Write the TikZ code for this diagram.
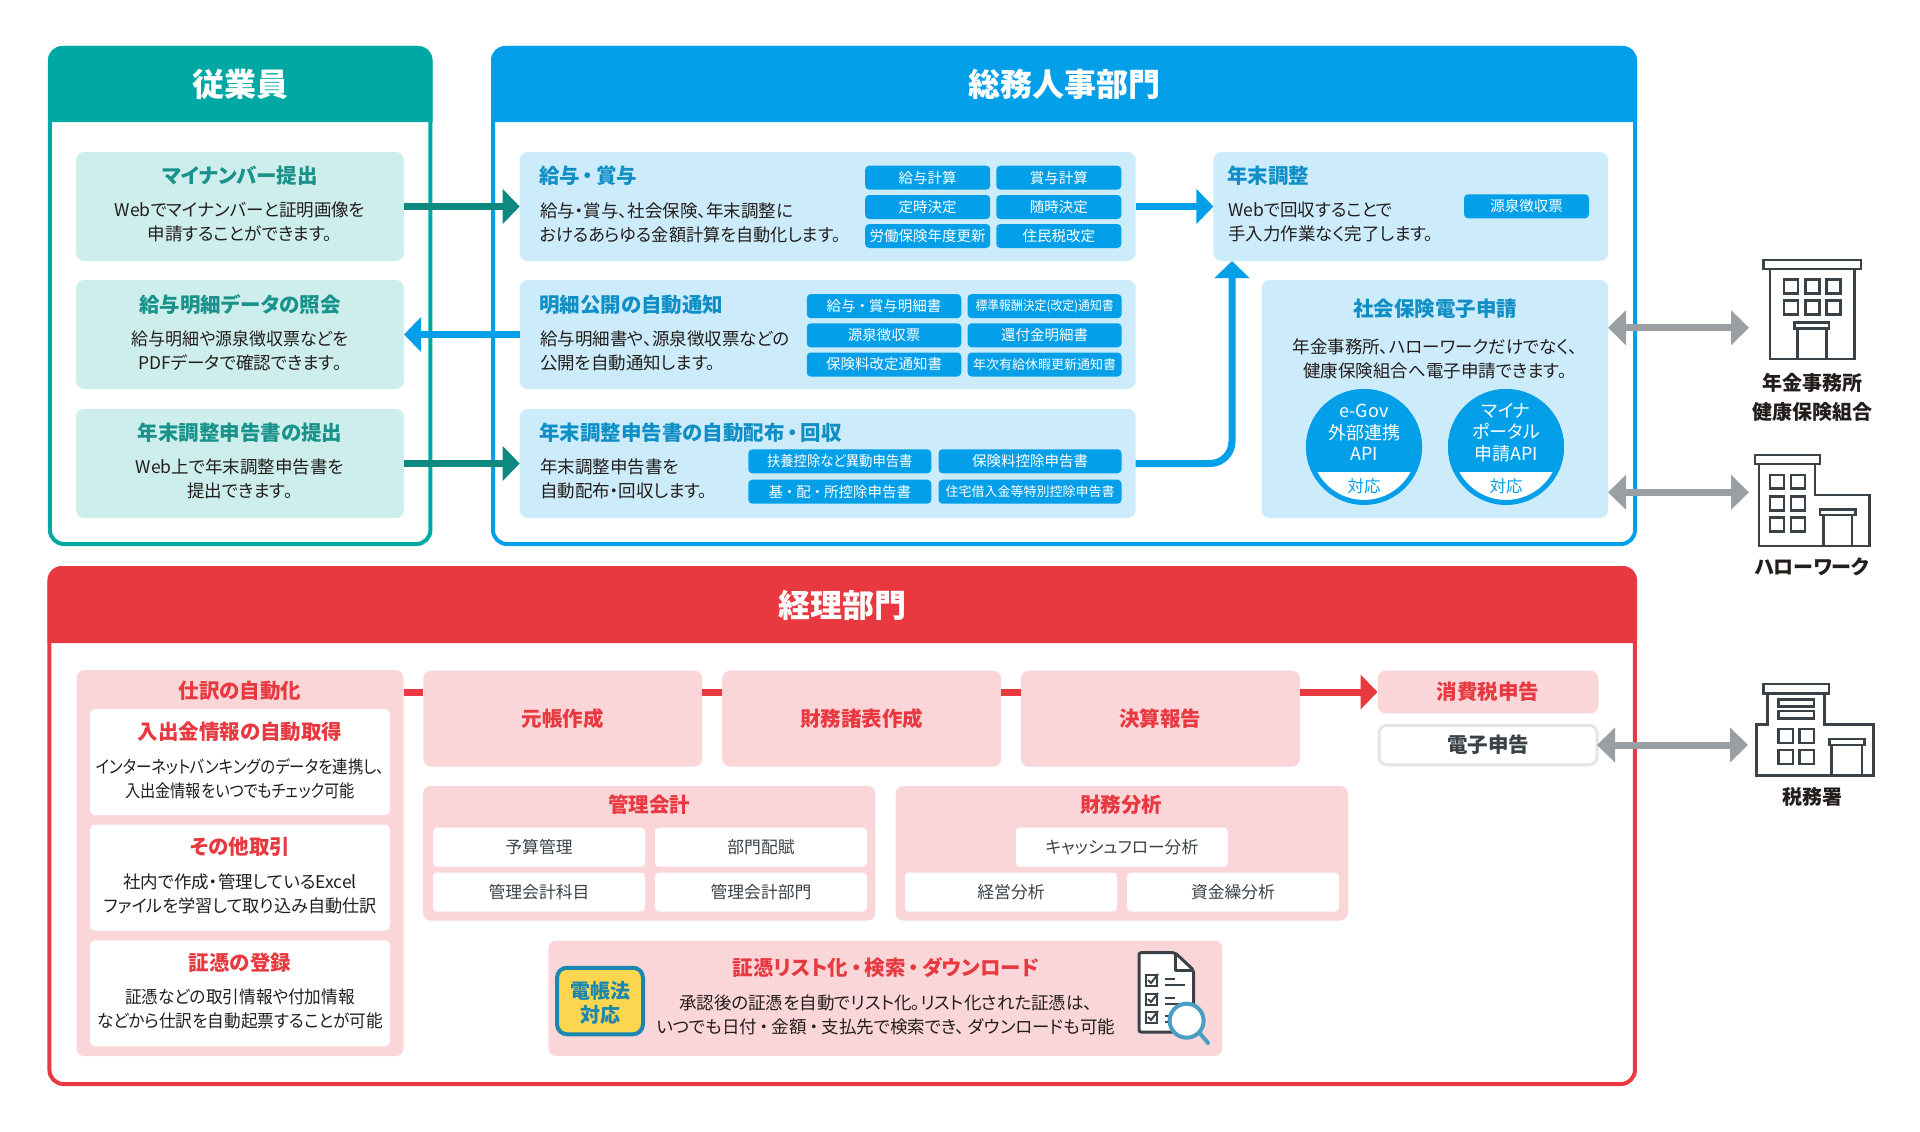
\documentclass[tikz,border=0pt]{standalone}
\usepackage{fontspec}
\setmainfont{Noto Sans CJK JP}[RawFeature={+palt}]
\usetikzlibrary{arrows.meta}
\definecolor{tealhead}{RGB}{0,168,163}
\definecolor{tealcard}{RGB}{205,238,236}
\definecolor{tealtitle}{RGB}{24,146,138}
\definecolor{tealarrow}{RGB}{14,137,128}
\definecolor{bluehead}{RGB}{3,160,233}
\definecolor{bluecard}{RGB}{204,235,251}
\definecolor{bluetitle}{RGB}{16,143,198}
\definecolor{redhead}{RGB}{232,56,64}
\definecolor{redcard}{RGB}{251,214,217}
\definecolor{grayarrow}{RGB}{154,159,163}
\definecolor{inkdark}{RGB}{35,30,28}
\definecolor{slate}{RGB}{58,66,72}
\definecolor{badgeyellow}{RGB}{253,214,79}
\definecolor{badgeblue}{RGB}{26,134,178}
\newcommand{\ndot}{\hspace{3pt}・\hspace{3pt}}
\tikzset{
 base/.style={inner sep=0pt, outer sep=0pt, align=center, text=inkdark, font=\fontsize{17.5}{24}\selectfont},
 panel/.style={base, rectangle, rounded corners=14pt, line width=4pt, fill=white},
 head/.style={base, text=white, font=\fontsize{32}{32}\selectfont\bfseries},
 card/.style={base, rectangle, rounded corners=8pt},
 title/.style={base, font=\fontsize{20.5}{20.5}\selectfont\bfseries},
 body/.style={base},
 tag/.style={base, rectangle, rounded corners=4pt, fill=bluehead, text=white, minimum height=24pt, font=\fontsize{14.5}{14.5}\selectfont},
 subtag/.style={base, rectangle, rounded corners=4pt, fill=white, text=slate, minimum height=39pt, minimum width=212pt, font=\fontsize{16.8}{16.8}\selectfont},
 flowbox/.style={card, fill=redcard, text=redhead, minimum width=279pt, minimum height=96pt, font=\fontsize{20.5}{20.5}\selectfont\bfseries},
 link/.style={line width=7pt},
 tiplink/.style={line width=7pt, -{Triangle[length=17pt,width=34pt]}},
 twolink/.style={line width=7pt, color=grayarrow, {Triangle[length=18pt,width=34pt]}-{Triangle[length=18pt,width=34pt]}},
 bldg/.style={line width=2.6pt, draw=slate, fill=white},
 bldgname/.style={base, font=\fontsize{20}{20}\selectfont\bfseries},
}
\begin{document}
\begin{tikzpicture}[x=1pt, y=-1pt]
\useasboundingbox (0,0) rectangle (1920,1132);

 %panels:
 \node[panel, draw=tealhead, minimum width=380.5pt, minimum height=496pt] (employee) at (240.2,296) {};
 \fill[tealhead] (48,122) [rounded corners=14pt] -- (48,46) -- (432.5,46) [sharp corners] -- (432.5,122) -- cycle;
 \node[head] (employeehead) at (240,84) {従業員};

 \node[panel, draw=bluehead, minimum width=1142pt, minimum height=496pt] (soumu) at (1064,296) {};
 \fill[bluehead] (491,122) [rounded corners=14pt] -- (491,46) -- (1637,46) [sharp corners] -- (1637,122) -- cycle;
 \node[head] (soumuhead) at (1064,84) {総務人事部門};

 \node[panel, draw=redhead, minimum width=1585.5pt, minimum height=516pt] (keiri) at (842.2,826) {};
 \fill[redhead] (47.5,643) [rounded corners=14pt] -- (47.5,566) -- (1637,566) [sharp corners] -- (1637,643) -- cycle;
 \node[head] (keirihead) at (842,605) {経理部門};

 %employee cards:
 \foreach \nm/\y in {mynumber/206.5, meisai/334.5, shinkoku/463.5}
  \node[card, fill=tealcard, minimum width=328pt, minimum height=109pt] (\nm) at (240,\y) {};

 \foreach \nm/\y/\txt in {mytitle/176/マイナンバー提出, meititle/304.5/給与明細データの照会, shintitle/433/年末調整申告書の提出}
  \node[title, text=tealtitle] (\nm) at (240,\y) {\txt};
 \node[body] (mybody) at (240,222) {Webでマイナンバーと証明画像を\\申請することができます。};
 \node[body] (meibody) at (240,351) {\scalebox{.97}[1]{給与明細や源泉徴収票などを}\\PDFデータで確認できます。};
 \node[body] (shinbody) at (240,479) {Web上で年末調整申告書を\\提出できます。};

 %soumu cards:
 \foreach \nm/\y in {kyuyo/206.5, koukai/334.5, haifu/463.5}
  \node[card, fill=bluecard, minimum width=616pt, minimum height=109pt] (\nm) at (827.7,\y) {};
 \node[card, fill=bluecard, minimum width=394.5pt, minimum height=109pt] (nencho) at (1410.7,206.5) {};
 \node[card, fill=bluecard, minimum width=346.5pt, minimum height=238pt] (shaho) at (1434.8,399) {};

 \foreach \nm/\x/\y/\txt in {kyutitle/539/176/給与\ndot 賞与, koutitle/539/304.5/明細公開の自動通知, haititle/539/433/年末調整申告書の自動配布\ndot 回収, nentitle/1227/176/年末調整}
  \node[title, text=bluetitle, anchor=west] (\nm) at (\x,\y) {\txt};
 \node[title, text=bluetitle] (shatitle) at (1435,309) {社会保険電子申請};

 \node[body, anchor=west, align=left] (kyubody) at (540,222.5) {給与・賞与、社会保険、年末調整に\\\scalebox{.98}[1]{おけるあらゆる金額計算を自動化します。}};
 \node[body, anchor=west, align=left] (koubody) at (540,351) {給与明細書や、源泉徴収票などの\\公開を自動通知します。};
 \node[body, anchor=west, align=left] (haibody) at (540,479) {年末調整申告書を\\自動配布・回収します。};
 \node[body, anchor=west, align=left] (nenbody) at (1228,222) {Webで回収することで\\手入力作業なく完了します。};
 \node[body] (shabody) at (1435,358.5) {年金事務所、ハローワークだけでなく、\\健康保険組合へ電子申請できます。};

 %tags:
 \foreach \nm/\x/\y/\w/\txt in {
   tagA/927.7/177.7/125/給与計算, tagB/1058.8/177.7/125/賞与計算,
   tagC/927.7/207/125/定時決定, tagD/1058.8/207/125/随時決定,
   tagE/927.7/236/125/労働保険年度更新, tagF/1058.8/236/125/住民税改定,
   tagG/884/306.2/154.5/給与\ndot 賞与明細書, tagI/884/335.3/154.5/源泉徴収票,
   tagK/884/364.5/154.5/保険料改定通知書, tagJ/1044.6/335.3/154/還付金明細書,
   tagM/839.8/461.3/183/\scalebox{.92}[1]{扶養控除など異動申告書}, tagN/1030/461.3/183/保険料控除申告書,
   tagO/839.8/491.7/183/基\ndot 配\ndot 所控除申告書, tagS/1526.5/206.3/125/源泉徴収票}
  \node[tag, minimum width=\w pt] (\nm) at (\x,\y) {\txt};
 \foreach \nm/\x/\y/\w/\txt in {
   tagH/1044.6/306.2/154/\scalebox{.91}[1]{標準報酬決定(改定)通知書},
   tagL/1044.6/364.5/154/年次有給休暇更新通知書,
   tagP/1030/491.7/183/住宅借入金等特別控除申告書}
  \node[tag, minimum width=\w pt, font=\fontsize{13}{13}\selectfont] (\nm) at (\x,\y) {\txt};

 %api circles:
 \foreach \nm/\x in {egov/1364, myna/1506} {
  \node[circle, fill=white, draw=bluehead, line width=5pt, minimum width=111pt, minimum height=111pt, inner sep=0pt] (\nm) at (\x,447) {};
  \begin{scope}
   \clip (\x-58,389) rectangle (\x+58,471.5);
   \fill[bluehead] (\nm) circle (58);
  \end{scope}
 }
 \node[base, text=white, font=\fontsize{18}{21.6}\selectfont] (egovtxt) at (1364,432.3) {e-Gov\\外部連携\\API};
 \node[base, text=white, font=\fontsize{18}{21.6}\selectfont] (mynatxt) at (1506,432.3) {マイナ\\ポータル\\申請API};
 \node[base, text=bluehead, font=\fontsize{16.5}{16.5}\selectfont] (egovtai) at (1364,486) {対応};
 \node[base, text=bluehead, font=\fontsize{16.5}{16.5}\selectfont] (mynatai) at (1506,486) {対応};

 %arrows:
 \draw[tiplink, tealarrow] (mynumber.east) -- (kyuyo.west);
 \draw[tiplink, bluehead] (koukai.west) -- (meisai.east);
 \draw[tiplink, tealarrow] (shinkoku.east) -- (haifu.west);
 \draw[tiplink, bluehead] (kyuyo.east) -- (nencho.west);
 \coordinate (nenchoin) at (1232,261);
 \draw[tiplink, bluehead, rounded corners=22pt] (haifu.east) -| (nenchoin);

 %buildings:
 \coordinate (nenkinport) at (1749,327.7);
 \coordinate (helloport) at (1749,492.3);
 \coordinate (zeimuport) at (1748,745);
 \coordinate (shahoA) at (1608,327.7);
 \coordinate (shahoB) at (1608,492.3);
 \draw[twolink] (shahoA) -- (nenkinport);
 \draw[twolink] (shahoB) -- (helloport);

 \draw[bldg] (1770,269) rectangle (1854.5,359);
 \draw[bldg] (1763.6,260) rectangle (1860.8,269);
 \foreach \x in {1784,1805.3,1826.5}
  \foreach \y in {279.3,300.3}
   \draw[bldg] (\x,\y) rectangle +(14,14);
 \draw[bldg] (1797.5,328) rectangle (1826.5,359);
 \draw[bldg] (1794.5,322.3) rectangle (1829,328.3);
 \node[bldgname] (nenkinname) at (1812,383) {年金事務所};
 \node[bldgname] (kenponame) at (1812,411.7) {健康保険組合};

 \draw[bldg] (1759,464) -- (1815,464) -- (1815,495) -- (1869.7,495) -- (1869.7,546) -- (1759,546) -- cycle;
 \draw[bldg] (1754.8,455) rectangle (1820,464);
 \foreach \x in {1770,1791}
  \foreach \y in {475,496.7,517.7}
   \draw[bldg] (\x,\y) rectangle +(14,13.5);
 \draw[bldg] (1823.5,515) rectangle (1852,546);
 \draw[bldg] (1820,509.3) rectangle (1855.5,515);
 \node[bldgname] (helloname) at (1812,566.7) {ハローワーク};

 \draw[bldg] (1767.3,693.3) -- (1824.7,693.3) -- (1824.7,724.3) -- (1873.5,724.3) -- (1873.5,775.7) -- (1756.7,775.7) -- (1756.7,724.3) -- (1767.3,724.3) -- cycle;
 \draw[bldg] (1763.3,684) rectangle (1829,693.3);
 \draw[bldg] (1778.5,699.3) rectangle (1813.8,706.7);
 \draw[bldg] (1778.5,711) rectangle (1813.8,718.3);
 \foreach \x in {1778.5,1799.3}
  \foreach \y in {729,750}
   \draw[bldg] (\x,\y) rectangle +(14.5,14);
 \draw[bldg] (1831.6,745) rectangle (1862,775.7);
 \draw[bldg] (1829.5,739) rectangle (1864.4,745);
 \node[bldgname] (zeimuname) at (1812,796.7) {税務署};

 %keiri, left column:
 \node[card, fill=redcard, minimum width=327pt, minimum height=386pt] (shiwake) at (240,863) {};
 \node[title, text=redhead] (shiwaketitle) at (240,691) {仕訳の自動化};
 \foreach \nm/\y in {nyuko/762, sonota/877.5, shohyo/993.3}
  \node[card, fill=white, rounded corners=5pt, minimum width=300pt, minimum height=106pt] (\nm) at (240,\y) {};
 \foreach \nm/\y/\txt in {nyutitle/731.5/入出金情報の自動取得, sontitle/847/その他取引, shotitle/963/証憑の登録}
  \node[title, text=redhead] (\nm) at (240,\y) {\txt};
 \node[body] (nyubody) at (240,778.3) {\scalebox{.88}[1]{インターネットバンキングのデータを連携し、}\\\scalebox{.87}[1]{入出金情報をいつでもチェック可能}};
 \node[body] (sonbody) at (240,893.8) {社内で作成・管理しているExcel\\\scalebox{.98}[1]{ファイルを学習して取り込み自動仕訳}};
 \node[body] (shobody) at (240,1009.3) {\scalebox{.95}[1]{証憑などの取引情報や付加情報}\\\scalebox{.95}[1]{などから仕訳を自動起票することが可能}};

 %keiri, flow:
 \node[flowbox] (motocho) at (562.8,718.7) {元帳作成};
 \node[flowbox] (zaimusho) at (861.7,718.7) {財務諸表作成};
 \node[flowbox] (kessan) at (1160.4,718.7) {決算報告};
 \node[card, fill=redcard, text=redhead, minimum width=221pt, minimum height=42.6pt, font=\fontsize{20.5}{20.5}\selectfont\bfseries] (shohizei) at (1488,692) {消費税申告};
 \node[card, fill=white, draw=black!10, line width=3pt, text=slate, minimum width=218pt, minimum height=39.5pt, font=\fontsize{20.5}{20.5}\selectfont\bfseries] (denshi) at (1488,745) {電子申告};
 \draw[link, redhead] ([yshift=-22pt]shiwake.north east) -- ([yshift=-21.3pt]motocho.north west);
 \draw[link, redhead] ([yshift=-21.3pt]motocho.north east) -- ([yshift=-21.3pt]zaimusho.north west);
 \draw[link, redhead] ([yshift=-21.3pt]zaimusho.north east) -- ([yshift=-21.3pt]kessan.north west);
 \draw[tiplink, redhead] ([yshift=-21.3pt]kessan.north east) -- (shohizei.west);
 \draw[twolink] (denshi.east) -- (zeimuport);

 %keiri, lower boxes:
 \node[card, fill=redcard, minimum width=452.5pt, minimum height=134.7pt] (kanri) at (649.2,853.3) {};
 \node[card, fill=redcard, minimum width=452.5pt, minimum height=134.7pt] (bunseki) at (1121.8,853.3) {};
 \node[title, text=redhead] (kanrititle) at (649,805) {管理会計};
 \node[title, text=redhead] (bunsekititle) at (1121,805) {財務分析};
 \foreach \nm/\x/\y/\txt in {
   subA/539/847.2/予算管理, subB/761/847.2/部門配賦,
   subC/539/892/管理会計科目, subD/761/892/管理会計部門,
   subE/1121.8/847.2/キャッシュフロー分析,
   subF/1011/892/経営分析, subG/1233/892/資金繰分析}
  \node[subtag] (\nm) at (\x,\y) {\txt};

 %keiri, document search:
 \node[card, fill=redcard, minimum width=674pt, minimum height=115.3pt] (risuto) at (885.4,998.3) {};
 \node[card, fill=badgeyellow, draw=badgeblue, line width=4pt, rounded corners=10pt, minimum width=86pt, minimum height=66.5pt] (denchoho) at (600,1001) {};
 \node[base, text=badgeblue, font=\fontsize{20}{24}\selectfont\bfseries] (denchotxt) at (600,1003) {電帳法\\対応};
 \node[title, text=redhead] (risutotitle) at (885.8,967.7) {証憑リスト化\ndot 検索\ndot ダウンロード};
 \node[body] (risutobody) at (885.8,1015) {承認後の証憑を自動でリスト化。リスト化された証憑は、\\いつでも日付\ndot 金額\ndot 支払先で検索でき、\hspace{4pt}ダウンロードも可能};

 %checklist icon:
 \draw[line width=3pt, draw=slate, fill=white, rounded corners=2pt, line join=round] (1175,952.7) -- (1139,952.7) -- (1139,1032) -- (1193.5,1032) -- (1193.5,970) -- cycle;
 \draw[line width=3pt, draw=slate, line join=round] (1175,952.7) -- (1175,970) -- (1193.5,970);
 \foreach \y in {979,998,1016} {
  \draw[line width=2pt, draw=slate] (1146,\y-4) rectangle +(11,11);
  \draw[line width=2pt, draw=slate] (1148,\y+1) -- (1151,\y+4) -- (1158,\y-5);
  \draw[line width=2pt, draw=slate] (1165,\y) -- +(10,0);
  \draw[line width=2pt, draw=slate] (1165,\y+6) -- +(20,0);
 }
 \draw[line width=4pt, draw=badgeblue!80, line cap=round] (1198,1031) -- (1208,1043);
 \draw[line width=4pt, draw=badgeblue!80, fill=white] (1186.6,1020.7) circle (17);
\end{tikzpicture}
\end{document}
